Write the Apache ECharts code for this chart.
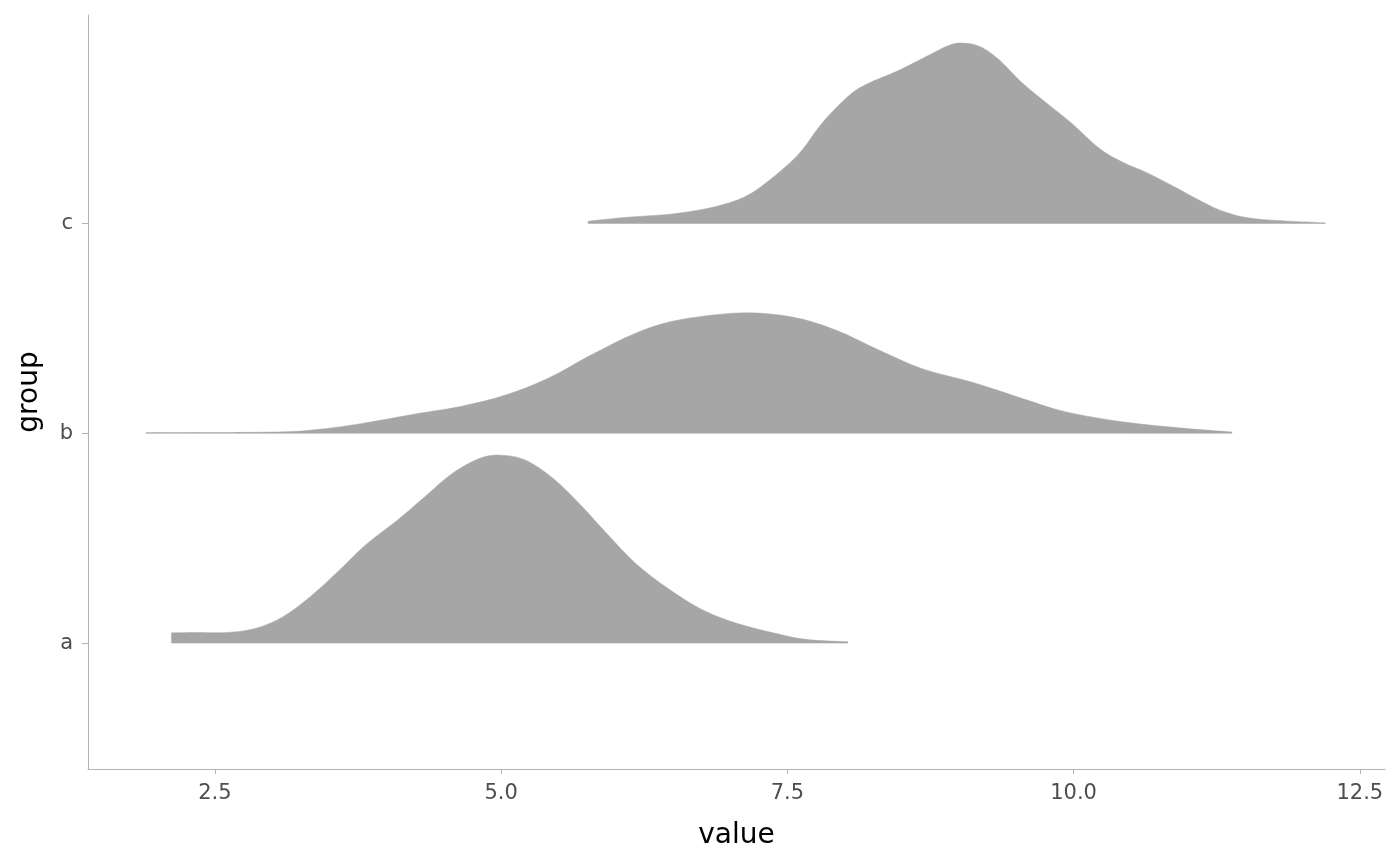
<!DOCTYPE html>
<html>
<head>
<meta charset="utf-8">
<script src="https://cdn.jsdelivr.net/npm/echarts@6/dist/echarts.min.js"></script>
<style>
html,body{margin:0;padding:0;background:#fff;}
#chart{width:1400px;height:866px;}
</style>
</head>
<body>
<div id="chart"></div>
<script>
// Categories (baseline positions 1,2,3 on the y value axis)
var groups = ['a', 'b', 'c'];
var xTicks = [2.5, 5.0, 7.5, 10.0, 12.5];

// Ridge a: x values and ridge heights (in group units)
var aX = [2.121, 2.333, 2.613, 2.853, 3.093, 3.333, 3.573, 3.814, 4.094, 4.334, 4.574, 4.815, 4.996, 5.214, 5.455, 5.695, 5.935, 6.175, 6.456, 6.736, 7.016, 7.376, 7.657, 8.029];
var aH = [0.049, 0.051, 0.051, 0.070, 0.125, 0.221, 0.340, 0.467, 0.586, 0.698, 0.809, 0.881, 0.896, 0.872, 0.785, 0.658, 0.515, 0.380, 0.261, 0.165, 0.102, 0.049, 0.018, 0.006];

// Ridge b
var bX = [1.898, 3.015, 3.390, 3.774, 4.271, 4.655, 5.031, 5.406, 5.781, 6.165, 6.540, 7.090, 7.544, 7.928, 8.303, 8.678, 9.123, 9.559, 9.935, 10.44, 10.947, 11.383];
var bH = [0.003, 0.006, 0.018, 0.046, 0.094, 0.129, 0.181, 0.261, 0.372, 0.475, 0.539, 0.574, 0.554, 0.491, 0.396, 0.308, 0.242, 0.165, 0.102, 0.054, 0.025, 0.006];

// Ridge c
var cX = [5.76, 6.10, 6.50, 6.85, 7.12, 7.34, 7.60, 7.81, 8.04, 8.20, 8.47, 8.73, 8.91, 9.03, 9.18, 9.34, 9.56, 9.79, 9.99, 10.23, 10.43, 10.63, 10.86, 11.13, 11.33, 11.60, 12.20];
var cH = [0.011, 0.030, 0.046, 0.078, 0.125, 0.205, 0.332, 0.483, 0.610, 0.666, 0.729, 0.801, 0.849, 0.860, 0.844, 0.785, 0.666, 0.563, 0.475, 0.356, 0.292, 0.245, 0.181, 0.102, 0.054, 0.022, 0.003];

var ridges = [
  {name: 'c', base: 3, x: cX, h: cH},
  {name: 'b', base: 2, x: bX, h: bH},
  {name: 'a', base: 1, x: aX, h: aH}
];

var FILL = '#a6a6a6';

function ridgePath(api, r) {
  var pts = r.x.map(function (v, i) { return api.coord([v, r.base + r.h[i]]); });
  var b0 = api.coord([r.x[0], r.base]);
  var b1 = api.coord([r.x[r.x.length - 1], r.base]);
  var d = 'M' + b0[0] + ' ' + b0[1] + ' L' + pts[0][0] + ' ' + pts[0][1];
  var n = pts.length;
  for (var i = 0; i < n - 1; i++) {
    var p0 = pts[Math.max(i - 1, 0)], p1 = pts[i], p2 = pts[i + 1], p3 = pts[Math.min(i + 2, n - 1)];
    var c1x = p1[0] + (p2[0] - p0[0]) / 6, c1y = p1[1] + (p2[1] - p0[1]) / 6;
    var c2x = p2[0] - (p3[0] - p1[0]) / 6, c2y = p2[1] - (p3[1] - p1[1]) / 6;
    d += ' C' + c1x + ' ' + c1y + ' ' + c2x + ' ' + c2y + ' ' + p2[0] + ' ' + p2[1];
  }
  d += ' L' + b1[0] + ' ' + b1[1] + ' Z';
  return d;
}

var chart = echarts.init(document.getElementById('chart'), null, {renderer: 'canvas'});
chart.setOption({
  animation: false,
  backgroundColor: '#ffffff',
  grid: {left: 88, right: 15, top: 15, bottom: 97, containLabel: false},
  xAxis: {
    type: 'value', min: 1.392, max: 12.72,
    name: 'value', nameLocation: 'middle', nameGap: 53,
    nameTextStyle: {fontFamily: 'DejaVu Sans', fontSize: 28, color: '#000'},
    axisLine: {show: true, lineStyle: {color: '#b3b3b3', width: 1}},
    axisTick: {show: true, length: 5, lineStyle: {color: '#b3b3b3'}, customValues: xTicks},
    axisLabel: {
      fontFamily: 'DejaVu Sans', fontSize: 21, color: '#4d4d4d', margin: 14,
      customValues: xTicks,
      formatter: function (v) { return v.toFixed(1); }
    },
    splitLine: {show: false}
  },
  yAxis: {
    type: 'value', min: 0.4, max: 3.994,
    name: 'group', nameLocation: 'middle', nameGap: 44,
    nameTextStyle: {fontFamily: 'DejaVu Sans', fontSize: 28, color: '#000'},
    axisLine: {show: true, lineStyle: {color: '#b3b3b3', width: 1}},
    axisTick: {show: true, length: 6, lineStyle: {color: '#b3b3b3'}, customValues: [1, 2, 3]},
    axisLabel: {
      fontFamily: 'DejaVu Sans', fontSize: 21, color: '#4d4d4d', margin: 15,
      customValues: [1, 2, 3],
      formatter: function (v) { return groups[Math.round(v) - 1] || ''; }
    },
    splitLine: {show: false}
  },
  series: [{
    type: 'custom',
    silent: true,
    clip: false,
    data: ridges.map(function (r, i) { return [r.x[0], r.base, i]; }),
    encode: {x: 0, y: 1},
    renderItem: function (params, api) {
      var r = ridges[params.dataIndex];
      return {
        type: 'path',
        shape: {pathData: ridgePath(api, r)},
        style: {fill: FILL, stroke: FILL, lineWidth: 0.5}
      };
    }
  }]
});
</script>
</body>
</html>
